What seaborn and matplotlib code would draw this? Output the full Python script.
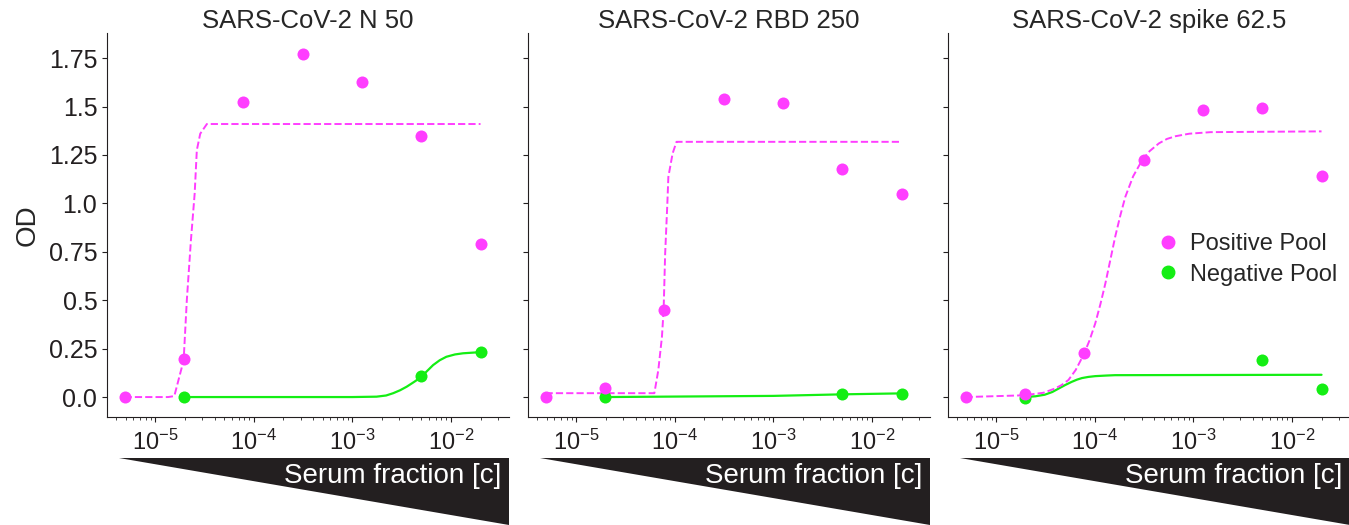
import numpy as np
import pandas as pd
import matplotlib
matplotlib.use("Agg")
import matplotlib.pyplot as plt
import seaborn as sns
from matplotlib.lines import Line2D
from matplotlib.patches import Polygon

sns.set_style("ticks")
plt.rcParams['font.family'] = ['Liberation Sans', 'DejaVu Sans']

# serum dilutions (4-fold from 1:50)
conc = [4.88e-6, 1.95e-5, 7.81e-5, 3.13e-4, 1.25e-3, 5.0e-3, 2.0e-2]
neg_conc = [1.95e-5, 5.0e-3, 2.0e-2]

titles = ["SARS-CoV-2 N 50", "SARS-CoV-2 RBD 250", "SARS-CoV-2 spike 62.5"]

# measured OD
n_pos = [0.0, 0.196, 1.525, 1.774, 1.625, 1.347, 0.79]
n_neg = [0.0, 0.108, 0.234]
rbd_pos = [0.0, 0.048, 0.45, 1.537, 1.519, 1.178, 1.048]
rbd_neg = [0.0, 0.014, 0.018]
spike_pos = [0.0, 0.018, 0.225, 1.222, 1.483, 1.495, 1.144]
spike_neg = [-0.003, 0.19, 0.044]

# fitted curves
n_fit_pos_x = [4.88e-6, 1.35e-5, 1.56e-5, 1.94e-5, 2.09e-5, 2.30e-5, 2.51e-5, 2.64e-5, 2.86e-5, 3.34e-5, 2.0e-2]
n_fit_pos_y = [0.0, 0.0, 0.005, 0.19, 0.50, 0.81, 1.05, 1.275, 1.36, 1.41, 1.41]
n_fit_neg_x = [1.95e-5, 1.0e-3, 1.76e-3, 2.2e-3, 2.6e-3, 3.05e-3, 3.55e-3, 4.2e-3, 4.9e-3, 5.7e-3,
               6.6e-3, 7.7e-3, 9.0e-3, 1.1e-2, 1.33e-2, 2.0e-2]
n_fit_neg_y = [0.0, 0.0, 0.002, 0.008, 0.02, 0.035, 0.053, 0.077, 0.10, 0.133,
               0.165, 0.19, 0.208, 0.22, 0.226, 0.232]

rbd_fit_pos_x = [4.88e-6, 6.2e-5, 6.8e-5, 7.4e-5, 7.7e-5, 7.98e-5, 8.4e-5, 8.6e-5, 9.5e-5, 1.04e-4, 2.0e-2]
rbd_fit_pos_y = [0.02, 0.02, 0.139, 0.31, 0.45, 0.74, 1.0, 1.137, 1.258, 1.318, 1.318]
rbd_fit_neg_x = [1.95e-5, 1.0e-3, 5.0e-3, 2.0e-2]
rbd_fit_neg_y = [0.0, 0.006, 0.014, 0.019]

spike_fit_pos_x = [4.88e-6, 1.9e-5, 3.0e-5, 3.94e-5, 4.6e-5, 5.4e-5, 6.4e-5, 7.67e-5, 8.8e-5, 1.01e-4,
                   1.14e-4, 1.28e-4, 1.44e-4, 1.61e-4, 1.82e-4, 2.04e-4, 2.45e-4, 3.02e-4,
                   3.6e-4, 4.47e-4, 5.4e-4, 6.6e-4, 9.1e-4, 1.5e-3, 2.0e-2]
spike_fit_pos_y = [0.0, 0.009, 0.022, 0.044, 0.062, 0.088, 0.14, 0.217, 0.29, 0.38,
                   0.48, 0.587, 0.71, 0.828, 0.94, 1.034, 1.14, 1.223,
                   1.27, 1.31, 1.333, 1.347, 1.36, 1.368, 1.372]
spike_fit_neg_x = [1.95e-5, 2.5e-5, 3.1e-5, 3.7e-5, 4.3e-5, 5.0e-5, 5.8e-5, 6.6e-5, 7.4e-5, 8.6e-5,
                   1.01e-4, 1.3e-4, 1.6e-4, 2.0e-2]
spike_fit_neg_y = [0.0, 0.004, 0.012, 0.026, 0.044, 0.062, 0.078, 0.09, 0.098, 0.104,
                   0.108, 0.111, 0.113, 0.115]

yticks = [0, 0.25, 0.5, 0.75, 1.0, 1.25, 1.5, 1.75]
ytick_labels = ["0.0", "0.25", "0.5", "0.75", "1.0", "1.25", "1.5", "1.75"]

pos_color = "#ff3dff"
neg_color = "#14ee14"

data = [
    (n_pos, n_neg, n_fit_pos_x, n_fit_pos_y, n_fit_neg_x, n_fit_neg_y),
    (rbd_pos, rbd_neg, rbd_fit_pos_x, rbd_fit_pos_y, rbd_fit_neg_x, rbd_fit_neg_y),
    (spike_pos, spike_neg, spike_fit_pos_x, spike_fit_pos_y, spike_fit_neg_x, spike_fit_neg_y),
]

fig = plt.figure(figsize=(13.49, 5.25), dpi=100)
lefts = [107 / 1349, 528 / 1349, 948 / 1349]
W, H = 1349, 525

for i, (pos, neg, fpx, fpy, fnx, fny) in enumerate(data):
    ax = fig.add_axes([lefts[i], (525 - 417) / H, 402 / W, 384 / H])
    fit_pos = pd.DataFrame({"conc": fpx, "od": fpy})
    fit_neg = pd.DataFrame({"conc": fnx, "od": fny})
    pts_pos = pd.DataFrame({"conc": conc, "od": pos})
    pts_neg = pd.DataFrame({"conc": neg_conc, "od": neg})

    sns.lineplot(data=fit_neg, x="conc", y="od", ax=ax, color=neg_color, lw=1.6,
                 estimator=None, sort=False, legend=False)
    sns.scatterplot(data=pts_neg, x="conc", y="od", ax=ax, color=neg_color, s=75,
                    linewidth=0, legend=False, zorder=3)
    sns.lineplot(data=fit_pos, x="conc", y="od", ax=ax, color=pos_color, lw=1.4,
                 estimator=None, sort=False, legend=False, linestyle="--")
    sns.scatterplot(data=pts_pos, x="conc", y="od", ax=ax, color=pos_color, s=75,
                    linewidth=0, legend=False, zorder=3)

    ax.set_xscale("log")
    ax.set_xlim(10 ** -5.49, 10 ** -1.41)
    ax.set_ylim(-0.103, 1.88)
    ax.set_yticks(yticks, labels=ytick_labels if i == 0 else [])
    ax.set_xticks([1e-5, 1e-4, 1e-3, 1e-2])
    ax.tick_params(axis="both", which="major", labelsize=18, length=3.5, width=0.8, colors="#231f20")
    ax.tick_params(axis="x", which="major", labelsize=17, pad=6)
    ax.tick_params(axis="x", which="minor", length=2, width=0.6)
    ax.set_xlabel("")
    ax.set_ylabel("OD" if i == 0 else "", fontsize=20, labelpad=6)
    ax.set_title(titles[i], fontsize=18.5, pad=-1)
    sns.despine(ax=ax)
    for s in ["left", "bottom"]:
        ax.spines[s].set_linewidth(0.8)
        ax.spines[s].set_color("#231f20")

    # dilution wedge under the axis
    tri = Polygon([(12 / 402, -0.107), (1.0, -0.107), (1.0, -0.281)], closed=True,
                  transform=ax.transAxes, clip_on=False, color="#231f20", lw=0)
    ax.add_patch(tri)
    ax.text(0.98, -0.154, "Serum fraction [c]", transform=ax.transAxes, ha="right",
            va="center", color="white", fontsize=20)

    if i == 2:
        handles = [Line2D([], [], marker="o", ls="", color=pos_color, markersize=9),
                   Line2D([], [], marker="o", ls="", color=neg_color, markersize=9)]
        ax.legend(handles, ["Positive Pool", "Negative Pool"], loc="center left",
                  bbox_to_anchor=(0.45, 0.41), frameon=False, fontsize=17,
                  handletextpad=0.2, labelspacing=0.35, handlelength=1.5)

fig.savefig("out.png", dpi=100)
